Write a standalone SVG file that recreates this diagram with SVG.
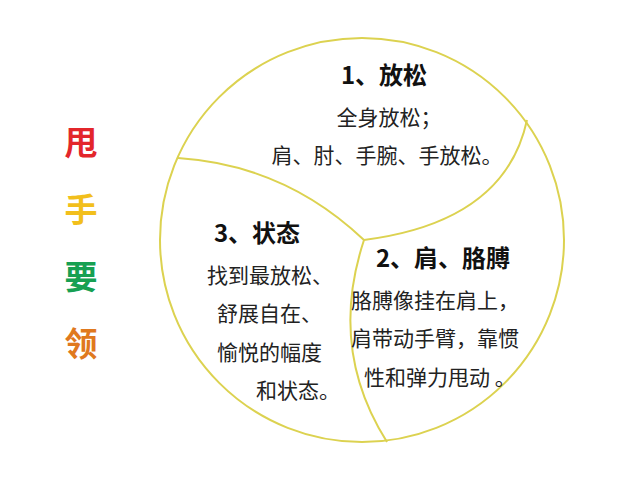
<svg xmlns="http://www.w3.org/2000/svg" width="640" height="480" viewBox="0 0 640 480">
<style>
.ring{fill:none;stroke:#dcd250;stroke-width:2}
.h{font-family:"Noto Sans CJK SC","Liberation Sans",sans-serif;font-weight:bold;font-size:24px;fill:#111}
.b{font-family:"Noto Sans CJK SC","Liberation Sans",sans-serif;font-size:21px;fill:#222}
.t{font-family:"Noto Sans CJK SC",sans-serif;font-weight:bold;font-size:33px;text-anchor:middle}
</style>
<rect width="640" height="480" fill="#ffffff"/>
<g id="title">
<text class="t" x="81" y="155" fill="#e3262b">甩</text>
<text class="t" x="81" y="222" fill="#f2bf1c">手</text>
<text class="t" x="81" y="289" fill="#17a052">要</text>
<text class="t" x="81" y="356" fill="#e0791e">领</text>
</g>
<g id="circle">
<circle class="ring" cx="362" cy="240" r="202"/>
</g>
<g id="connectors">
<path class="ring" d="M364,240 Q505,222 527,120"/>
<path class="ring" d="M364,240 Q285,165 178,158"/>
<path class="ring" d="M364,240 Q328,349 387,442"/>
</g>
<g id="section1">
<text class="h" x="384" y="84" text-anchor="middle">1、放松</text>
<text class="b" x="389" y="125" text-anchor="middle">全身放松；</text>
<text class="b" x="387" y="163" text-anchor="middle">肩、肘、手腕、手放松。</text>
</g>
<g id="section2">
<text class="h" x="443" y="267" text-anchor="middle">2、肩、胳膊</text>
<text class="b" x="351" y="308">胳膊像挂在肩上，</text>
<text class="b" x="351" y="346">肩带动手臂，靠惯</text>
<text class="b" x="364" y="385">性和弹力甩动 。</text>
</g>
<g id="section3">
<text class="h" x="257" y="242" text-anchor="middle">3、状态</text>
<text class="b" x="207" y="283">找到最放松、</text>
<text class="b" x="217" y="321">舒展自在、</text>
<text class="b" x="217" y="360">愉悦的幅度</text>
<text class="b" x="256" y="398">和状态。</text>
</g>
</svg>
